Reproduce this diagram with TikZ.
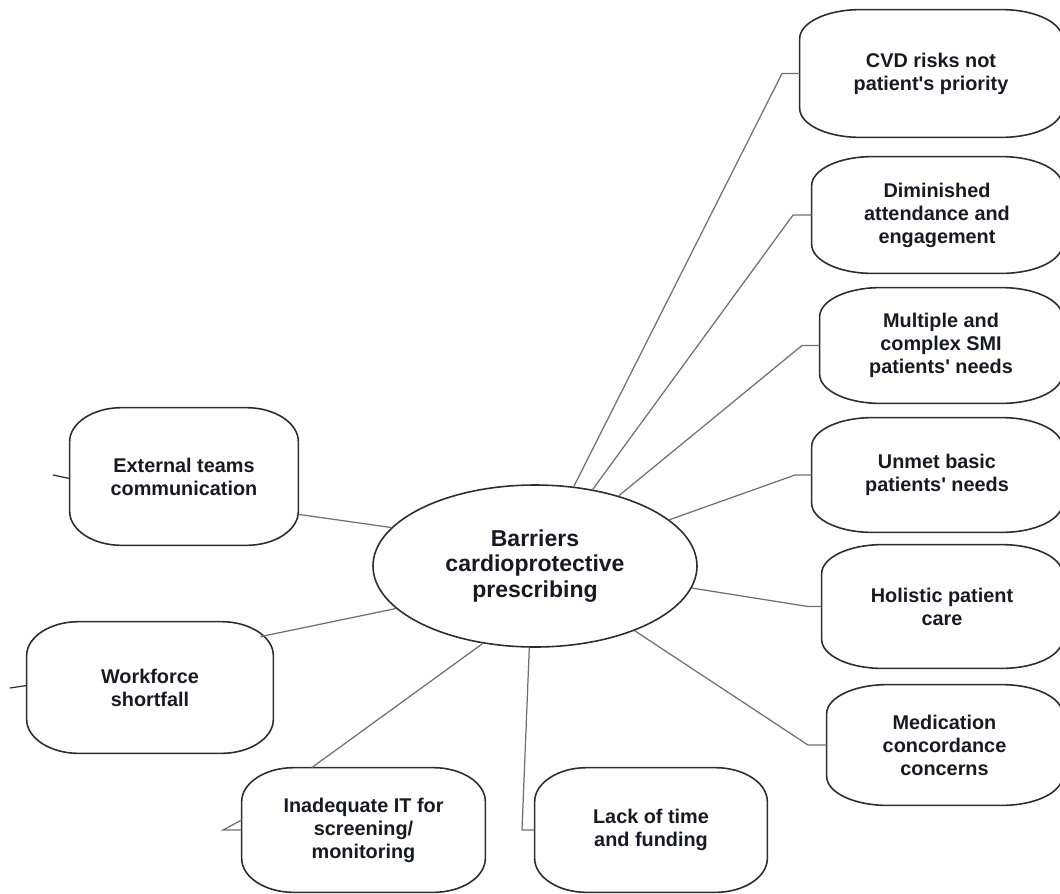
\documentclass[tikz,border=0pt]{standalone}
\usepackage{fontspec}
\setmainfont{Liberation Sans}
\usepackage{tikz}
\usetikzlibrary{positioning,calc,shapes.geometric}
\definecolor{brLine}{RGB}{110,110,110}
\definecolor{brEdge}{RGB}{45,45,45}
\definecolor{brText}{RGB}{25,25,35}

\tikzset{
  barrier/.style={align=center, inner sep=0pt, text=brText,
    font=\bfseries\fontsize{11.3}{13.1}\selectfont},
  boxsize/.style 2 args={minimum width=#1*0.02cm, minimum height=#2*0.02cm},
  frame/.style={draw=brEdge, line width=0.9pt},
  hubnode/.style={ellipse, draw=brEdge, line width=0.9pt, fill=white, align=center,
    inner sep=0pt, text=brText, font=\bfseries\fontsize{13.1}{14.7}\selectfont},
  link/.style={draw=brLine, line width=0.7pt},
}

% outline with flat elliptic corners: node, x radius, y radius
\newcommand{\pillframe}[3]{%
  \draw[frame] ($(#1.north west)+(0,#3)$)
    .. controls ($(#1.north west)+(0,0.45*#3)$) and ($(#1.north west)+(0.45*#2,0)$) .. ($(#1.north west)+(#2,0)$)
    -- ($(#1.north east)+(-#2,0)$)
    .. controls ($(#1.north east)+(-0.45*#2,0)$) and ($(#1.north east)+(0,0.45*#3)$) .. ($(#1.north east)+(0,#3)$)
    -- ($(#1.south east)+(0,-#3)$)
    .. controls ($(#1.south east)+(0,-0.45*#3)$) and ($(#1.south east)+(-0.45*#2,0)$) .. ($(#1.south east)+(-#2,0)$)
    -- ($(#1.south west)+(#2,0)$)
    .. controls ($(#1.south west)+(0.45*#2,0)$) and ($(#1.south west)+(0,-0.45*#3)$) .. ($(#1.south west)+(0,-#3)$)
    -- cycle;}

\begin{document}
\begin{tikzpicture}[x=0.02cm, y=-0.02cm]
  \useasboundingbox (0,0) rectangle (1060,893);
  \clip (0,0) rectangle (1060,893);

  % Centre
  \node[hubnode, boxsize={324}{162}] (hub) at (535,566)
    {Barriers\\cardioprotective\\prescribing};

  % Right column
  \node[barrier, boxsize={262}{127}] (cvd) at (931,73.5) {CVD risks not\\patient\textquotesingle s priority};
  \node[barrier, boxsize={250}{116}] (dim) at (937,215) {Diminished\\attendance and\\engagement};
  \node[barrier, boxsize={242}{115}] (mult) at (941,345.5) {Multiple and\\complex SMI\\patients\textquotesingle\ needs};
  \node[barrier, boxsize={250}{114}] (unmet) at (937,475) {Unmet basic\\patients\textquotesingle\ needs};
  \node[barrier, boxsize={240}{123}] (hol) at (942,606.5) {Holistic patient\\care};
  \node[barrier, boxsize={235}{120}] (med) at (944.5,745) {Medication\\concordance\\concerns};

  % Bottom row
  \node[barrier, boxsize={232}{124}] (lack) at (651,830) {Lack of time\\and funding};
  \node[barrier, boxsize={243}{124}] (it) at (363.5,830) {Inadequate IT for\\screening/\\monitoring};

  % Left side
  \node[barrier, boxsize={246}{131}] (work) at (150,687.5) {Workforce\\shortfall};
  \node[barrier, boxsize={228}{137}] (ext) at (184,476.5) {External teams\\communication};

  % Outlines
  \foreach \n in {cvd,dim,mult,unmet,hol,med}
    \pillframe{\n}{60}{29};
  \foreach \n in {lack,it,work,ext}
    \pillframe{\n}{52}{34};

  % Bends
  \coordinate (cvdbend) at (782,73.5);
  \coordinate (dimbend) at (793,215);
  \coordinate (multbend) at (802,345.5);
  \coordinate (unmetbend) at (795,475);
  \coordinate (holbend) at (808,606.5);
  \coordinate (medbend) at (808,745);
  \coordinate (lackbend) at (522,830);

  % Connectors
  \draw[link] (hub.64) -- (cvdbend) -- (cvd.west);
  \draw[link] (hub.53.5) -- (dimbend) -- (dim.west);
  \draw[link] (hub.40.7) -- (multbend) -- (mult.west);
  \draw[link] (hub.19.8) -- (unmetbend) -- (unmet.west);
  \draw[link] (hub.-8.8) -- (holbend) -- (hol.west);
  \draw[link] (hub.-33.1) -- (medbend) -- (med.west);
  \draw[link] (hub.-94.2) -- (lackbend) -- (lack.west);
  \draw[link] (hub.-124) -- ($(it.north west)+(70,0)$);
  \draw[link] (hub.-163) -- ($(work.north east)+(-13,15)$);
  \draw[link] (hub.165.3) -- ($(ext.south east)+(0,-31)$);

  % Loose ends
  \coordinate (extstub) at (53,475);
  \coordinate (workstub) at (10,688);
  \coordinate (itstub) at (223,830);
  \draw[link, draw=brEdge] (extstub) -- ($(ext.west)+(0,2)$);
  \draw[link, draw=brEdge] (workstub) -- ($(work.west)+(0,-2)$);
  \draw[link] ($(it.west)+(0,-10)$) -- (itstub) -- (it.west);
\end{tikzpicture}
\end{document}
